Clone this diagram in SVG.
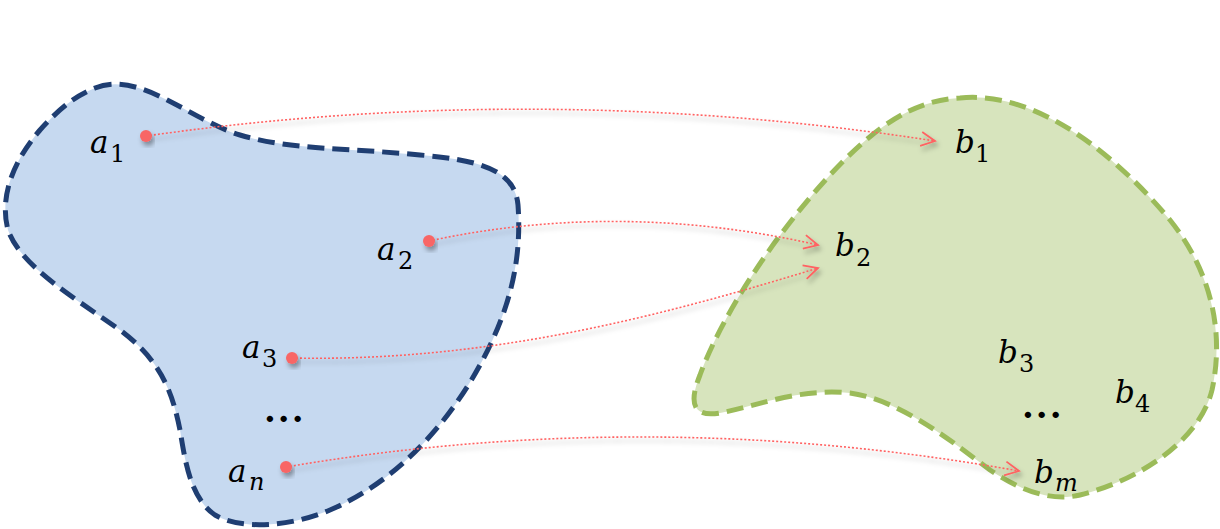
<svg xmlns="http://www.w3.org/2000/svg" width="1220" height="529" viewBox="0 0 1220 529">
<defs>
<style>
.lbl{font-family:"DejaVu Serif","Liberation Serif",serif;font-style:italic;font-size:31px;fill:#000}
.sub{font-size:24px;font-style:normal}
.subi{font-size:24px;font-style:italic}
.dots{font-family:"DejaVu Serif","Liberation Serif",serif;font-size:34px;font-weight:bold;letter-spacing:2px;fill:#000}
.conn{fill:none;stroke:#ff6262;stroke-width:1.6;stroke-dasharray:2 2;marker-end:url(#arr)}
.pt{fill:#f86666}
.glowA{fill:none;stroke:#ffffff;stroke-width:9;stroke-linejoin:round}
.blobA{fill:#c6d9f0;stroke:#1f3e72;stroke-width:5;stroke-dasharray:17 8}
.blobB{fill:#d7e4bd;stroke:#9bbb59;stroke-width:5;stroke-dasharray:17 8}
</style>
<filter id="sh" x="-20%" y="-50%" width="140%" height="200%">
<feDropShadow dx="2" dy="4" stdDeviation="2.5" flood-color="#000" flood-opacity="0.35"/>
</filter>
<marker id="arr" markerUnits="userSpaceOnUse" markerWidth="20" markerHeight="20" viewBox="-16 -10 20 20" refX="0" refY="0" orient="auto">
<path d="M-14,-7 L0,0 L-14,7" fill="none" stroke="#ff6262" stroke-width="1.8"/>
</marker>
</defs>
<g id="setA">
<path class="glowA" d="M95,88 C140,70 190,120 240,135 C290,150 350,148 420,155 C480,160 515,170 518,205 C522,260 510,310 480,365 C450,420 400,480 330,510 C290,527 240,530 215,515 C190,498 185,460 180,430 C172,390 160,360 120,330 C70,295 20,265 8,230 C0,200 10,165 40,130 C60,108 75,96 95,88 Z"/>
<path class="blobA" d="M95,88 C140,70 190,120 240,135 C290,150 350,148 420,155 C480,160 515,170 518,205 C522,260 510,310 480,365 C450,420 400,480 330,510 C290,527 240,530 215,515 C190,498 185,460 180,430 C172,390 160,360 120,330 C70,295 20,265 8,230 C0,200 10,165 40,130 C60,108 75,96 95,88 Z"/>
</g>
<g id="setB">
<path class="glowA" d="M960,98 C1040,90 1120,160 1170,220 C1210,270 1225,330 1212,390 C1200,440 1140,480 1080,495 C1050,502 1020,490 990,470 C950,440 900,400 850,393 C800,388 760,405 720,413 C690,418 690,400 700,375 C720,320 770,240 830,175 C870,132 910,100 960,98 Z"/>
<path class="blobB" d="M960,98 C1040,90 1120,160 1170,220 C1210,270 1225,330 1212,390 C1200,440 1140,480 1080,495 C1050,502 1020,490 990,470 C950,440 900,400 850,393 C800,388 760,405 720,413 C690,418 690,400 700,375 C720,320 770,240 830,175 C870,132 910,100 960,98 Z"/>
</g>
<g id="connectors" filter="url(#sh)">
<path class="conn" d="M146,136 Q540,80 935,141"/>
<path class="conn" d="M429,241 Q620,200 818,245"/>
<path class="conn" d="M292,358 C480,362 650,320 818,268"/>
<path class="conn" d="M286,467 Q650,405 1019,471"/>
</g>
<g id="a1"><circle class="pt" cx="146" cy="136" r="6" filter="url(#sh)"/><text class="lbl" x="90" y="153">a<tspan class="sub" x="110" y="162">1</tspan></text></g>
<g id="a2"><circle class="pt" cx="429" cy="241" r="6" filter="url(#sh)"/><text class="lbl" x="377" y="260">a<tspan class="sub" x="398" y="269">2</tspan></text></g>
<g id="a3"><circle class="pt" cx="292" cy="358" r="6" filter="url(#sh)"/><text class="lbl" x="242" y="358">a<tspan class="sub" x="262" y="367">3</tspan></text></g>
<g id="adots"><text class="dots" x="264" y="422">...</text></g>
<g id="an"><circle class="pt" cx="286" cy="467" r="6" filter="url(#sh)"/><text class="lbl" x="228" y="482">a<tspan class="subi" x="249" y="490">n</tspan></text></g>
<g id="b1"><text class="lbl" x="955" y="153">b<tspan class="sub" x="975" y="162">1</tspan></text></g>
<g id="b2"><text class="lbl" x="835" y="256">b<tspan class="sub" x="856" y="266">2</tspan></text></g>
<g id="b3"><text class="lbl" x="998" y="363">b<tspan class="sub" x="1019" y="372">3</tspan></text></g>
<g id="b4"><text class="lbl" x="1115" y="403">b<tspan class="sub" x="1135" y="412">4</tspan></text></g>
<g id="bdots"><text class="dots" x="1022" y="418">...</text></g>
<g id="bm"><text class="lbl" x="1034" y="483">b<tspan class="subi" x="1055" y="491">m</tspan></text></g>
</svg>
